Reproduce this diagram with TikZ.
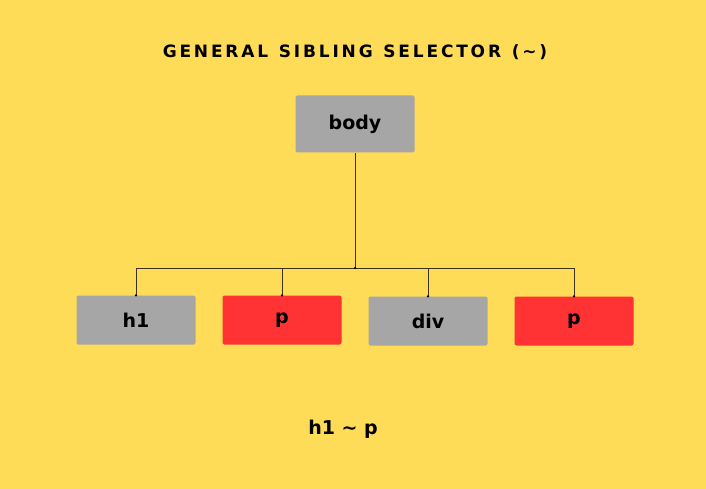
\documentclass[tikz,border=0pt]{standalone}
\usepackage{fontspec}
\setmainfont{DejaVu Sans}
\definecolor{bg}{RGB}{255,220,88}
\definecolor{gr}{RGB}{166,166,166}
\definecolor{rd}{RGB}{255,51,51}
\definecolor{wc}{RGB}{60,50,30}
\begin{document}
\begin{tikzpicture}[x=1pt,y=-1pt,
  box/.style={rounded corners=2pt,minimum width=119pt,minimum height=49pt,inner sep=0pt,font=\bfseries\fontsize{19}{22}\selectfont},
  gray/.style={box,fill=gr},
  redb/.style={box,fill=rd},
  wire/.style={draw=wc,line width=0.8pt},
  dot/.style={circle,fill=black,inner sep=0pt,minimum size=2.5pt}]
\fill[bg] (0,0) rectangle (706,489);
\useasboundingbox (0,0) rectangle (706,489);
\node[font=\bfseries\fontsize{17}{20}\selectfont] (title) at (355,52) {G\,E\,N\,E\,R\,A\,L\; S\,I\,B\,L\,I\,N\,G\; S\,E\,L\,E\,C\,T\,O\,R\; (\,\char`\~\,)};
\node[gray,minimum height=57pt] (body) at (355,124) {body};
\node[gray] (h1) at (136,320) {h1};
\node[redb] (p1) at (282,320) {p};
\node[gray] (div) at (428,321) {div};
\node[redb] (p2) at (574,321) {p};
\coordinate (j) at (355,268);
\coordinate (l) at (136,268);
\coordinate (r) at (574,268);
\draw[wire] (body.south) -- (j);
\draw[wire] (l) -- (r);
\draw[wire] (l) -- (h1.north);
\draw[wire] (282,268) -- (p1.north);
\draw[wire] (428,268) -- (div.north);
\draw[wire] (r) -- (p2.north);
\node[dot] at (j) {};
\foreach \n in {h1,p1,div,p2} \node[dot] at (\n.north) {};
\node[font=\bfseries\fontsize{19}{22}\selectfont] (sel) at (343,429) {h1 \char`\~{} p};
\end{tikzpicture}
\end{document}
